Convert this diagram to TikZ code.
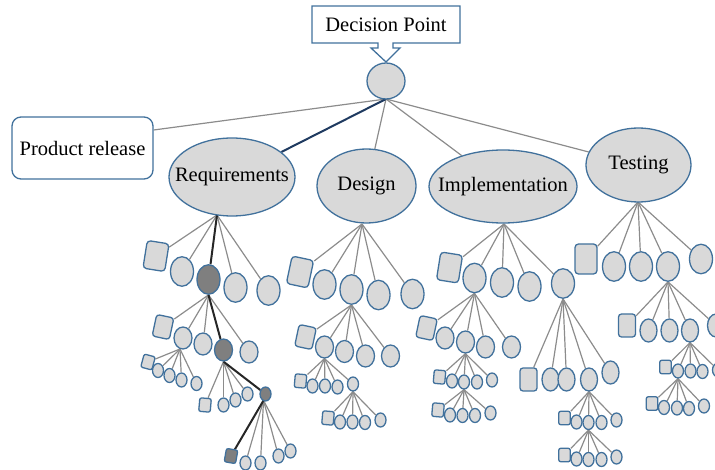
\documentclass[tikz,border=0pt]{standalone}
\usepackage{fontspec}
\setmainfont{Liberation Serif}
\usetikzlibrary{shapes.geometric,backgrounds}
\definecolor{nodeblue}{HTML}{41719C}
\definecolor{nodefill}{HTML}{D9D9D9}
\definecolor{darkfill}{HTML}{7F7F7F}
\definecolor{linegrey}{HTML}{8C8C8C}
\definecolor{darkline}{HTML}{262626}
\definecolor{navy}{HTML}{1F3A60}
\tikzset{
 ln/.style={draw=linegrey, line width=1.2pt},
 dk/.style={draw=darkline, line width=2pt},
 base/.style={draw=nodeblue, fill=nodefill, line width=1.3pt, inner sep=0pt},
 ea/.style={base, ellipse, minimum width=23pt, minimum height=29.5pt},
 eb/.style={base, ellipse, minimum width=18pt, minimum height=22pt},
 ebt/.style={base, ellipse, minimum width=17pt, minimum height=23pt},
 ec/.style={base, ellipse, minimum width=11pt, minimum height=14pt},
 sa/.style={base, rectangle, rounded corners=3.5pt, minimum width=22pt, minimum height=28pt},
 sb/.style={base, rectangle, rounded corners=3pt, minimum width=17.5pt, minimum height=22pt},
 sbt/.style={base, rectangle, rounded corners=3pt, minimum width=17pt, minimum height=23pt},
 sc/.style={base, rectangle, rounded corners=2pt, minimum width=11.5pt, minimum height=13.5pt},
 dark/.style={fill=darkfill},
 big/.style={base, ellipse},
 lbl/.style={font=\fontsize{20.5}{24}\selectfont, inner sep=0pt},
}
\begin{document}
\begin{tikzpicture}[x=1pt,y=-1pt]
\useasboundingbox (0,0) rectangle (715,470);
% top
\draw[draw=nodeblue, line width=1.3pt, fill=white] (312,6) -- (460,6) -- (460,43) -- (393,43) -- (393,48) -- (400,48) -- (386,62) -- (371,48) -- (378,48) -- (378,43) -- (312,43) -- cycle;
\node[lbl] (DP) at (386,24.5) {Decision Point};
\node[base, ellipse, minimum width=38pt, minimum height=36pt] (root) at (386,81) {};
\node[draw=nodeblue, fill=white, line width=1.3pt, rounded corners=9pt, minimum width=141pt, minimum height=62pt, inner sep=0pt, font=\fontsize{20.5}{24}\selectfont] (PR) at (82.5,148) {Product release};
\node[big, minimum width=126pt, minimum height=78pt, label={[lbl]center:Requirements}] (Req) at (232,177) {};
\node[big, minimum width=99pt, minimum height=74pt, label={[lbl]center:Design}] (Des) at (366.5,186) {};
\node[big, minimum width=148pt, minimum height=73pt, label={[lbl]center:Implementation}] (Imp) at (503,186.5) {};
\node[big, minimum width=105pt, minimum height=74pt, label={[lbl]center:Testing}] (Tst) at (638.5,165) {};
\coordinate (hTop) at (386,99);
\begin{scope}[on background layer]
\draw[ln] (hTop) -- ([yshift=18pt]PR.east);
\draw[ln] (hTop) -- (Des);
\draw[ln] (hTop) -- (Imp);
\draw[ln] (hTop) -- (Tst);
\draw[draw=navy, line width=2pt] (hTop) -- (Req);
\end{scope}

% ---------------- Requirements
\coordinate (hR) at (217,215);
\node[sa, rotate=-9] (r1s) at (156,256) {};
\node[ea] (r1a) at (182,271.5) {};
\node[ea, dark] (r1b) at (208.5,279.5) {};
\node[ea] (r1c) at (235.5,287.5) {};
\node[ea] (r1d) at (268.5,290.5) {};
\node[sb, rotate=-12] (r2s) at (163,327) {};
\node[eb] (r2a) at (183,338) {};
\node[eb] (r2b) at (203,344) {};
\node[eb, dark] (r2c) at (223.5,350) {};
\node[eb] (r2d) at (249,352) {};
\coordinate (hR3a) at (180,349);
\node[sc, rotate=-15] (r3s) at (148,362) {};
\node[ec] (r3a) at (158,370.5) {};
\node[ec] (r3b) at (169.5,375.5) {};
\node[ec] (r3c) at (181.5,380) {};
\node[ec] (r3d) at (196.5,383.5) {};
\node[sc, rotate=-5] (q3s) at (205,405) {};
\node[ec] (q3a) at (223.5,405) {};
\node[ec] (q3b) at (235.5,400) {};
\node[ec] (q3c) at (247.5,394) {};
\node[ec, dark] (q3d) at (265.5,394) {};
\coordinate (hR4) at (263.5,400.5);
\node[sc, dark, rotate=-10] (r4s) at (231,456) {};
\node[ec] (r4a) at (245.5,463) {};
\node[ec] (r4b) at (260.5,463) {};
\node[ec] (r4c) at (278.5,456) {};
\node[ec] (r4d) at (290.5,451) {};
\begin{scope}[on background layer]
\foreach \n in {r1s,r1a,r1c,r1d} \draw[ln] (hR) -- (\n);
\foreach \n in {r2s,r2a,r2b,r2d} \draw[ln] (r1b.south) -- (\n);
\foreach \n in {r3s,r3a,r3b,r3c,r3d} \draw[ln] (hR3a) -- (\n);
\foreach \n in {q3s,q3a,q3b,q3c} \draw[ln] (r2c.south) -- (\n);
\foreach \n in {r4a,r4b,r4c,r4d} \draw[ln] (hR4) -- (\n);
\draw[dk] (hR) -- (r1b);
\draw[dk] (r1b.south) -- (r2c);
\draw[dk] (r2c.south) -- (q3d);
\draw[dk] (hR4) -- (r4s);
\end{scope}

% ---------------- Design
\coordinate (hD) at (362,224);
\node[sa, rotate=-12] (d1s) at (300,272) {};
\node[ea] (d1a) at (324.5,284.5) {};
\node[ea] (d1b) at (351.5,289.5) {};
\node[ea] (d1c) at (378.5,295) {};
\node[ea] (d1d) at (412.5,294) {};
\node[sb, rotate=-12] (d2s) at (305.5,337) {};
\node[eb] (d2a) at (324.5,347) {};
\node[eb] (d2b) at (344.5,351.5) {};
\node[eb] (d2c) at (365.5,356) {};
\node[eb] (d2d) at (390.5,356) {};
\node[sc, rotate=-5] (d3s) at (300.5,381) {};
\node[ec] (d3a) at (312.5,386) {};
\node[ec] (d3b) at (325,386) {};
\node[ec] (d3c) at (337.5,387) {};
\node[ec] (d3d) at (353,384) {};
\node[sc, rotate=-5] (d4s) at (328,418) {};
\node[ec] (d4a) at (340,422) {};
\node[ec] (d4b) at (352.5,422) {};
\node[ec] (d4c) at (365,422.5) {};
\node[ec] (d4d) at (380.5,420) {};
\begin{scope}[on background layer]
\foreach \n in {d1s,d1a,d1b,d1c,d1d} \draw[ln] (hD) -- (\n);
\foreach \n in {d2s,d2a,d2b,d2c,d2d} \draw[ln] (d1b.south) -- (\n);
\foreach \n in {d3s,d3a,d3b,d3c,d3d} \draw[ln] (d2a.south) -- (\n);
\foreach \n in {d4s,d4a,d4b,d4c,d4d} \draw[ln] (d3d.south) -- (\n);
\end{scope}

% ---------------- Implementation
\coordinate (hI) at (504,224);
\node[sa, rotate=-9] (i1s) at (449.5,267.5) {};
\node[ea] (i1a) at (474.5,278) {};
\node[ea] (i1b) at (502,282.5) {};
\node[ea] (i1c) at (529.5,286.5) {};
\node[ea] (i1d) at (563,283.5) {};
\node[sb, rotate=-12] (i2s) at (426.5,328) {};
\node[eb] (i2a) at (445,338) {};
\node[eb] (i2b) at (465.5,342) {};
\node[eb] (i2c) at (485.5,347) {};
\node[eb] (i2d) at (511.5,347) {};
\node[sc, rotate=-5] (i3s) at (439.5,377) {};
\node[ec] (i3a) at (452,381) {};
\node[ec] (i3b) at (464,382) {};
\node[ec] (i3c) at (477,382) {};
\node[ec] (i3d) at (492,380) {};
\node[sc, rotate=-5] (i4s) at (438,410) {};
\node[ec] (i4a) at (450,415) {};
\node[ec] (i4b) at (462.5,415.5) {};
\node[ec] (i4c) at (475,415.5) {};
\node[ec] (i4d) at (490.5,413) {};
\node[sbt] (j2s) at (528.5,379.5) {};
\node[ebt] (j2a) at (550.5,379.5) {};
\node[ebt] (j2b) at (566.5,379.5) {};
\node[ebt] (j2c) at (589,379.5) {};
\node[ebt] (j2d) at (610.5,372.5) {};
\node[sc] (j3s) at (564.5,418) {};
\node[ec] (j3a) at (576.5,422) {};
\node[ec] (j3b) at (588.5,422.5) {};
\node[ec] (j3c) at (601.5,422.5) {};
\node[ec] (j3d) at (616.5,420) {};
\node[sc] (j4s) at (564.5,455) {};
\node[ec] (j4a) at (576.5,459) {};
\node[ec] (j4b) at (588.5,459.5) {};
\node[ec] (j4c) at (601.5,459.5) {};
\node[ec] (j4d) at (616.5,457) {};
\begin{scope}[on background layer]
\foreach \n in {i1s,i1a,i1b,i1c,i1d} \draw[ln] (hI) -- (\n);
\foreach \n in {i2s,i2a,i2b,i2c,i2d} \draw[ln] (i1a.south) -- (\n);
\foreach \n in {i3s,i3a,i3b,i3c,i3d} \draw[ln] (i2b.south) -- (\n);
\foreach \n in {i4s,i4a,i4b,i4c,i4d} \draw[ln] (i3b.south) -- (\n);
\foreach \n in {j2s,j2a,j2b,j2c,j2d} \draw[ln] (i1d.south) -- (\n);
\foreach \n in {j3s,j3a,j3b,j3c,j3d} \draw[ln] (j2c.south) -- (\n);
\foreach \n in {j4s,j4a,j4b,j4c,j4d} \draw[ln] (j3b.south) -- (\n);
\end{scope}

% ---------------- Testing
\coordinate (hT) at (638,202);
\node[sa, minimum height=30pt] (t1s) at (586,259) {};
\node[ea] (t1a) at (614,266.5) {};
\node[ea] (t1b) at (641,266.5) {};
\node[ea] (t1c) at (668,266.5) {};
\node[ea] (t1d) at (701,259) {};
\node[sbt] (t2s) at (627,325.5) {};
\node[ebt] (t2a) at (648.5,330.5) {};
\node[ebt] (t2b) at (669.5,330.5) {};
\node[ebt] (t2c) at (690,330.5) {};
\node[ebt] (t2d) at (716,325.5) {};
\node[sc] (t3s) at (665.5,367) {};
\node[ec] (t3a) at (678,371) {};
\node[ec] (t3b) at (690.5,371) {};
\node[ec] (t3c) at (702.5,371.5) {};
\node[ec] (t3d) at (718,370) {};
\node[sc] (t4s) at (652,403.5) {};
\node[ec] (t4a) at (664,407.5) {};
\node[ec] (t4b) at (677,408) {};
\node[ec] (t4c) at (689,408.5) {};
\node[ec] (t4d) at (704,406) {};
\begin{scope}[on background layer]
\foreach \n in {t1s,t1a,t1b,t1c,t1d} \draw[ln] (hT) -- (\n);
\foreach \n in {t2s,t2a,t2b,t2c,t2d} \draw[ln] (t1c.south) -- (\n);
\foreach \n in {t3s,t3a,t3b,t3c,t3d} \draw[ln] (t2c.south) -- (\n);
\foreach \n in {t4s,t4a,t4b,t4c,t4d} \draw[ln] (t3a.south) -- (\n);
\end{scope}
\end{tikzpicture}
\end{document}
